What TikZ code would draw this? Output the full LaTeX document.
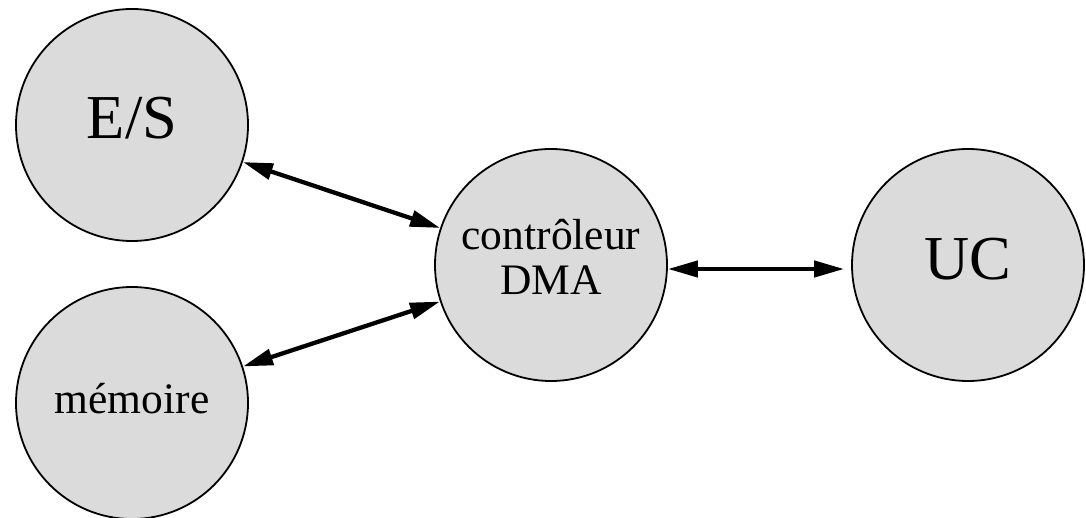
\documentclass[tikz,border=0pt]{standalone}
\usepackage{fontspec}
\setmainfont{Liberation Serif}
\usetikzlibrary{arrows.meta}
% place a text with zero size, its baseline moved by #1
\newcommand{\liftby}[2]{\raisebox{#1}[0pt][0pt]{#2}}
\begin{document}
\begin{tikzpicture}[x=1pt,y=-1pt,
  unit/.style={circle, draw=black, line width=1.8pt, fill=gray!28,
    minimum size=232pt, inner sep=0pt, align=center},
  bigtext/.style={font=\fontsize{62.5}{62.5}\selectfont},
  smalltext/.style={font=\fontsize{43.5}{45}\selectfont},
  link/.style={line width=4.3pt,
    {Triangle[length=30pt,width=16pt]}-{Triangle[length=30pt,width=16pt]}}
]
\useasboundingbox (0,0) rectangle (1086,518);

\node[unit, bigtext]   (es)  at (132,125) {\liftby{-14pt}{E/S}};
\node[unit, smalltext] (mem) at (132,403) {\liftby{-10pt}{mémoire}};
\node[unit, smalltext] (dma) at (551,265)
  {\liftby{-30pt}{\begin{tabular}[b]{@{}c@{}}contrôleur\\DMA\end{tabular}}};
\node[unit, bigtext]   (uc)  at (968,265) {\liftby{-15pt}{UC}};

\draw[link] (es) -- (dma);
\draw[link] (mem) -- (dma);
\draw[link, shorten >=7pt] ([yshift=-4pt]dma.east) -- ([yshift=-4pt]uc.west);
\end{tikzpicture}
\end{document}
